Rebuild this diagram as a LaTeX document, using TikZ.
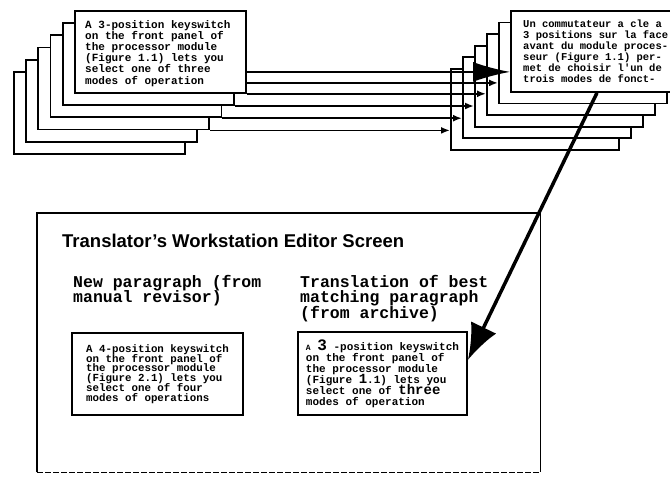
\documentclass[tikz,border=0pt]{standalone}
\usepackage{fontspec}
\setsansfont{Liberation Sans}
\setmonofont{Liberation Mono}
\usetikzlibrary{arrows.meta}
\lineskiplimit=-100pt

\begin{document}
\begin{tikzpicture}[x=1pt,y=-1pt,
    sheet/.style={draw,fill=white,line width=1.8pt,inner sep=0pt,anchor=north west,
      minimum width=171pt,minimum height=82pt},
    copysheet/.style={sheet,minimum width=168pt,minimum height=81pt},
    para/.style={draw,fill=white,line width=1.8pt,inner sep=0pt,align=left},
    typed/.style={font=\ttfamily\bfseries\fontsize{11}{11.2}\selectfont,align=left,
      inner sep=0pt,anchor=north west},
    head/.style={font=\ttfamily\bfseries\fontsize{16.5}{15.5}\selectfont,align=left,
      inner sep=0pt,anchor=north west},
    link/.style={line width=1.8pt,-{Latex[length=9pt,width=7pt]}}]
  \clip (0,0) rectangle (670,477);

  % source paragraphs, back to front
  \foreach \i in {6,...,1}
    \node[sheet] (src\i) at ({74-12.2*(\i-1)},{10+12.2*(\i-1)}) {};
  \node[typed] (srctext) at (85,20) {A 3-position keyswitch\\on the front panel of\\the processor module\\(Figure 1.1) lets you\\select one of three\\modes of operation};

  % translated paragraphs
  \foreach \i in {6,...,1}
    \node[copysheet] (tgt\i) at ({510-12*(\i-1)},{10+11.6*(\i-1)}) {};
  \node[typed,font=\ttfamily\bfseries\fontsize{10.5}{10.9}\selectfont] (tgttext) at (523,20) {Un commutateur a cle a\\3 positions sur la face\\avant du module proces-\\seur (Figure 1.1) per-\\met de choisir l'un de\\trois modes de fonct-};

  % links between the stacks
  \coordinate (o1) at ([yshift=-20pt]src1.east);
  \coordinate (o2) at ([yshift=-31pt]src1.east);
  \draw[link,-{Latex[length=37pt,width=20pt]}] (o1) -- (o1 -| tgt1.west);
  \draw[link] (o2) -- (o2 -| tgt2.west);
  \foreach \s/\t in {1/3,2/4,3/5,4/6}
    \draw[link] (src\s.south east) -- (src\s.south east -| tgt\t.west);

  % editor screen
  \node[inner sep=0pt,anchor=north west,minimum width=503pt,minimum height=259pt] (screen) at (37,213) {};
  \draw[line width=1.8pt] (screen.south west) |- (screen.north east) -- (screen.south east);
  \draw[line width=1.2pt,dash pattern=on 6pt off 2pt] (screen.south west) -- (screen.south east);
  \node[anchor=base west,inner sep=0pt,font=\sffamily\bfseries\fontsize{18.5}{20}\selectfont] (title) at (62,247) {Translator’s Workstation Editor Screen};

  \node[head] (newhead) at (73,275) {New paragraph (from\\manual revisor)};
  \node[head] (oldhead) at (300,275) {Translation of best\\matching paragraph\\(from archive)};

  \node[para,minimum width=171pt,minimum height=82pt,font=\ttfamily\bfseries\fontsize{10.8}{9.8}\selectfont] (newpara) at (157.5,374) {A 4-position keyswitch\\on the front panel of\\the processor module\\(Figure 2.1) lets you\\select one of four\\modes of operations};
  \node[para,minimum width=169pt,minimum height=83pt,font=\ttfamily\bfseries\fontsize{11}{11}\selectfont] (oldpara) at (382.5,373.5) {{\fontsize{8}{11}\selectfont A} {\fontsize{16}{11}\selectfont 3} -position keyswitch\\on the front panel of\\the processor module\\(Figure {\fontsize{14}{11}\selectfont 1}.1) lets you\\select one of {\fontsize{14}{11}\selectfont three}\\modes of operation};

  % retrieved translation goes into the editor
  \draw[line width=3.5pt,-{Latex[length=36pt,width=28pt]}] ([xshift=87pt]tgt1.south west) -- ([yshift=13.5pt]oldpara.east);
\end{tikzpicture}
\end{document}
